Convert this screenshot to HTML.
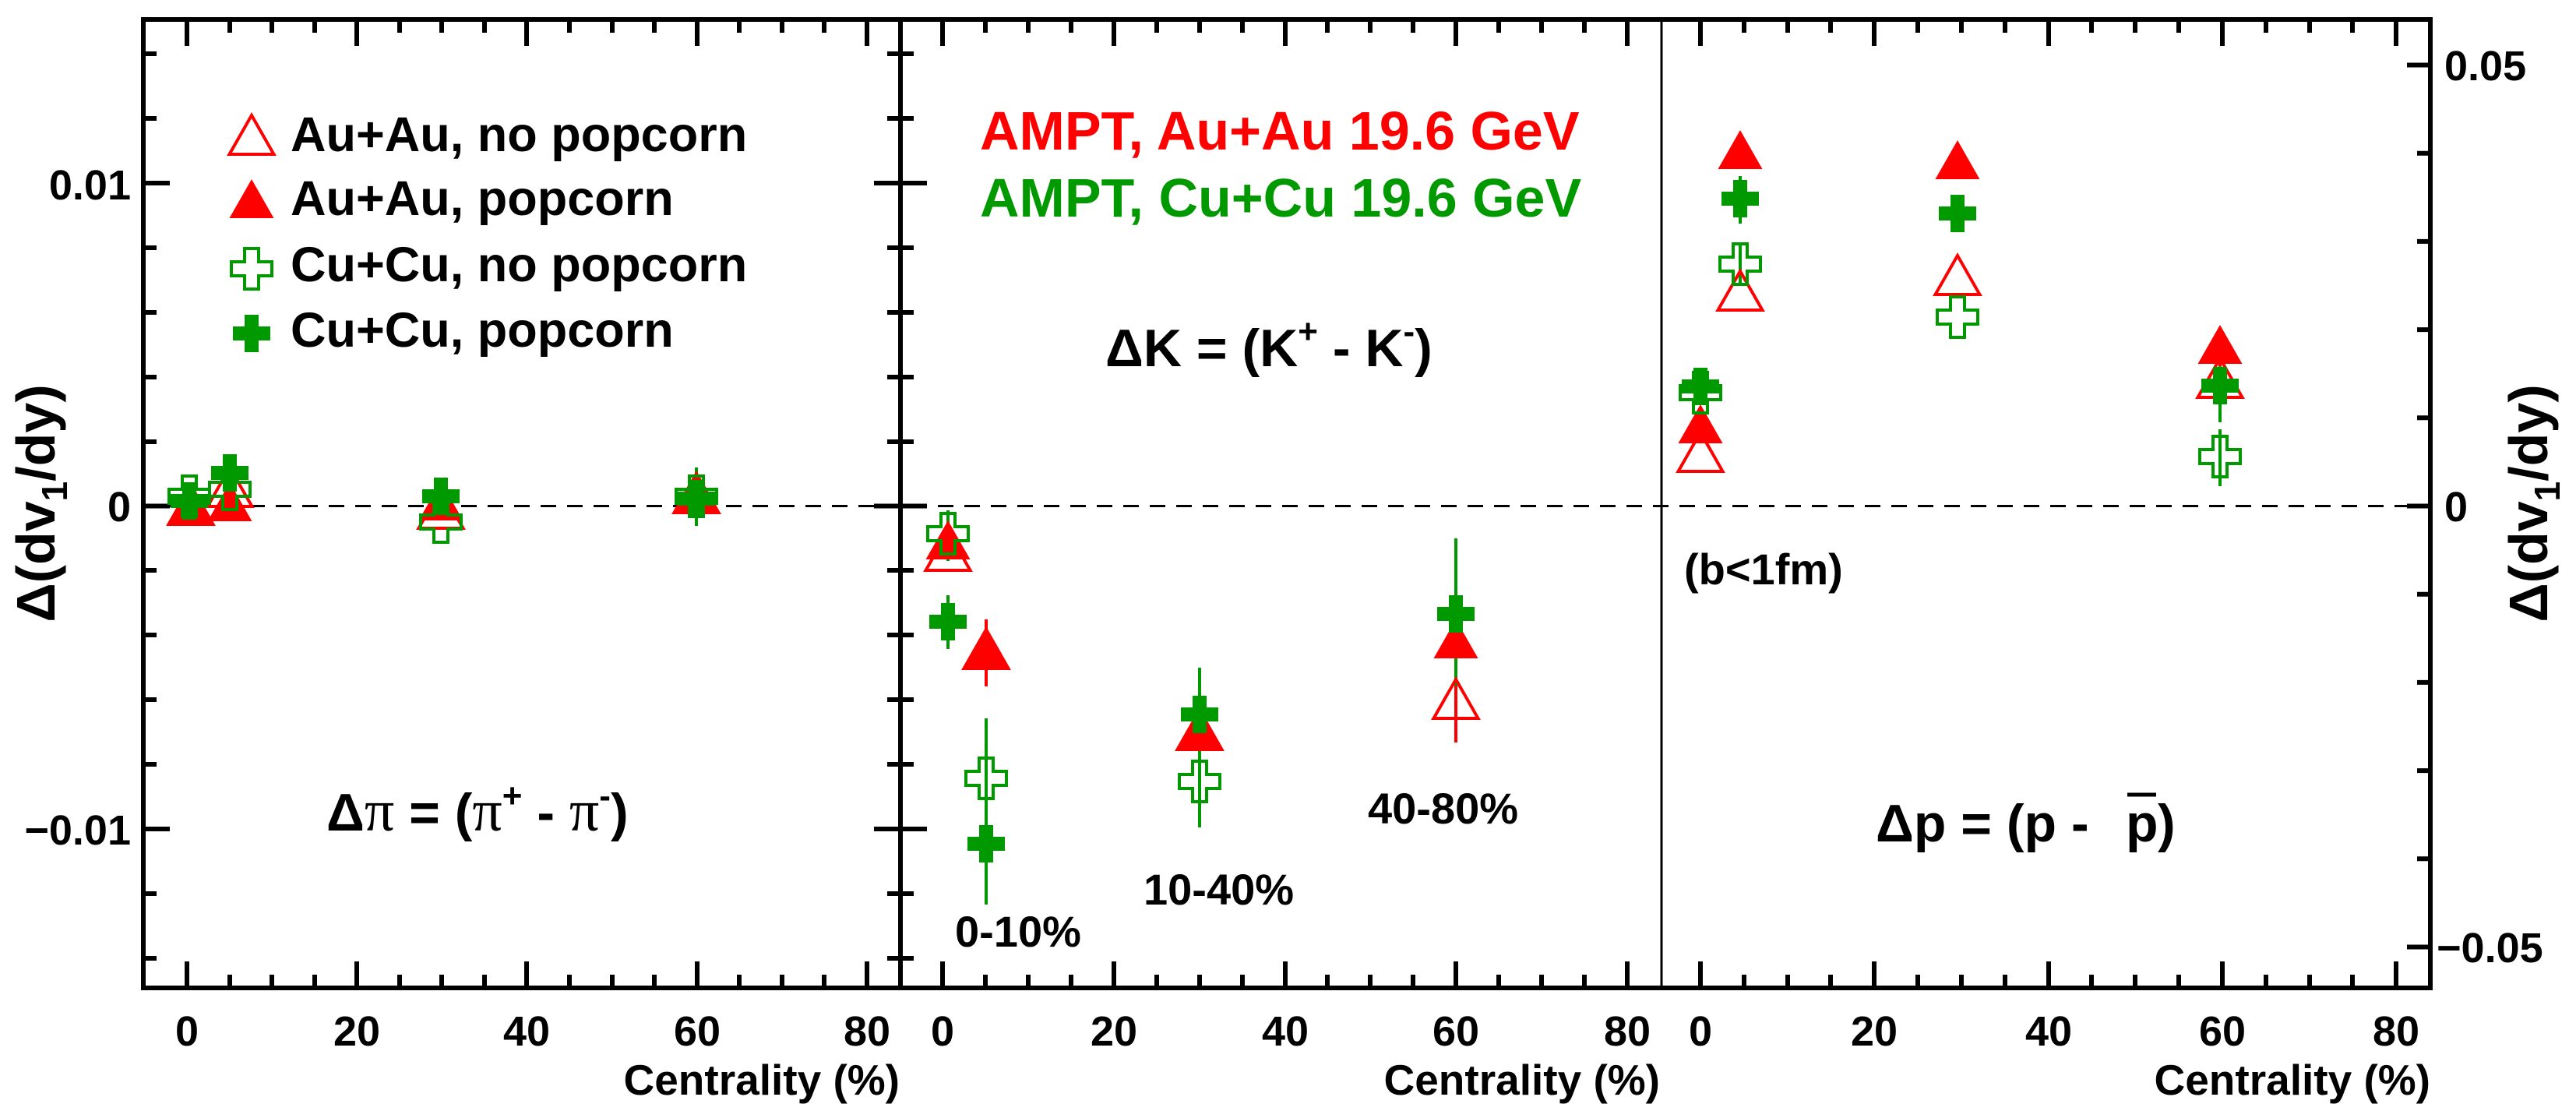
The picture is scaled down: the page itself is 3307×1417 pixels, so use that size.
<!DOCTYPE html>
<html><head><meta charset="utf-8"><style>
html,body{margin:0;padding:0;background:#fff;}
svg{display:block;}
text{font-family:"Liberation Sans",Arial,sans-serif;font-weight:bold;}
</style></head><body>
<svg width="3307" height="1417" viewBox="0 0 3307 1417" xmlns="http://www.w3.org/2000/svg">
<defs>
<polygon id="tri" points="0,-32 28.5,18 -28.5,18"/>
<polygon id="crs" points="-9,-26 9,-26 9,-9 26,-9 26,9 9,9 9,26 -9,26 -9,9 -26,9 -26,-9 -9,-9"/>
<polygon id="fcr" points="-9,-24 9,-24 9,-9 24,-9 24,9 9,9 9,24 -9,24 -9,9 -24,9 -24,-9 -9,-9"/>
</defs>

<line x1="184" y1="649.5" x2="3120" y2="649.5" stroke="#000" stroke-width="3" stroke-dasharray="20,14"/>

<g stroke="#000" fill="none">
<rect x="184" y="25" width="2936" height="1243" stroke-width="6"/>
<line x1="1156" y1="25" x2="1156" y2="1268" stroke-width="6"/>
<line x1="2133" y1="25" x2="2133" y2="1268" stroke-width="3"/>
<path stroke-width="6" d="M184 69h17M184 152h17M184 235h34M184 318h17M184 401h17M184 484h17M184 567h17M184 649.5h34M184 732h17M184 815h17M184 898h17M184 981h17M184 1064h34M184 1147h17M184 1230h17
M1139 69h34M1139 152h34M1122 235h68M1139 318h34M1139 401h34M1139 484h34M1139 567h34M1122 649.5h68M1139 732h34M1139 815h34M1139 898h34M1139 981h34M1122 1064h68M1139 1147h34M1139 1230h34
M3120 83.5h-30M3120 196.7h-17M3120 309.9h-17M3120 423.1h-17M3120 536.3h-17M3120 649.5h-30M3120 762.7h-17M3120 875.9h-17M3120 989.1h-17M3120 1102.3h-17M3120 1215.5h-30"/>
<path stroke-width="6" d="
M240 1268v-34M295 1268v-17M349 1268v-17M404 1268v-17M458 1268v-34M513 1268v-17M567 1268v-17M622 1268v-17M676 1268v-34M731 1268v-17M786 1268v-17M840 1268v-17M895 1268v-34M949 1268v-17M1004 1268v-17M1058 1268v-17M1113 1268v-34
M240 25v34M295 25v17M349 25v17M404 25v17M458 25v34M513 25v17M567 25v17M622 25v17M676 25v34M731 25v17M786 25v17M840 25v17M895 25v34M949 25v17M1004 25v17M1058 25v17M1113 25v34
M1210 1268v-34M1265 1268v-17M1320 1268v-17M1375 1268v-17M1430 1268v-34M1485 1268v-17M1540 1268v-17M1595 1268v-17M1650 1268v-34M1704 1268v-17M1759 1268v-17M1814 1268v-17M1869 1268v-34M1924 1268v-17M1979 1268v-17M2034 1268v-17M2089 1268v-34
M1210 25v34M1265 25v17M1320 25v17M1375 25v17M1430 25v34M1485 25v17M1540 25v17M1595 25v17M1650 25v34M1704 25v17M1759 25v17M1814 25v17M1869 25v34M1924 25v17M1979 25v17M2034 25v17M2089 25v34
M2183 1268v-34M2239 1268v-17M2295 1268v-17M2350 1268v-17M2406 1268v-34M2462 1268v-17M2518 1268v-17M2574 1268v-17M2630 1268v-34M2685 1268v-17M2741 1268v-17M2797 1268v-17M2853 1268v-34M2909 1268v-17M2965 1268v-17M3020 1268v-17M3076 1268v-34
M2183 25v34M2239 25v17M2295 25v17M2350 25v17M2406 25v34M2462 25v17M2518 25v17M2574 25v17M2630 25v34M2685 25v17M2741 25v17M2797 25v17M2853 25v34M2909 25v17M2965 25v17M3020 25v17M3076 25v34"/>
</g>

<g font-size="54" fill="#000">
<text x="168" y="256" text-anchor="end">0.01</text>
<text x="168" y="669" text-anchor="end">0</text>
<text x="168" y="1084" text-anchor="end">−0.01</text>
<text x="3138" y="103">0.05</text>
<text x="3138" y="669">0</text>
<text x="3128" y="1235">−0.05</text>
<g text-anchor="middle">
<text x="240" y="1342">0</text><text x="458" y="1342">20</text><text x="676" y="1342">40</text><text x="895" y="1342">60</text><text x="1113" y="1342">80</text>
<text x="1210" y="1342">0</text><text x="1430" y="1342">20</text><text x="1650" y="1342">40</text><text x="1869" y="1342">60</text><text x="2089" y="1342">80</text>
<text x="2183" y="1342">0</text><text x="2406" y="1342">20</text><text x="2630" y="1342">40</text><text x="2853" y="1342">60</text><text x="3076" y="1342">80</text>
</g>
</g>
<g font-size="55" text-anchor="end">
<text x="1155" y="1405">Centrality (%)</text>
<text x="2131" y="1405">Centrality (%)</text>
<text x="3120" y="1405">Centrality (%)</text>
</g>

<text font-size="70" text-anchor="middle" transform="translate(70,646) rotate(-90)">Δ(dv<tspan font-size="46" dy="16">1</tspan><tspan dy="-16">/dy)</tspan></text>
<text font-size="70" text-anchor="middle" transform="translate(3270,646) rotate(-90)">Δ(dv<tspan font-size="46" dy="16">1</tspan><tspan dy="-16">/dy)</tspan></text>

<g font-size="63">
<text x="373" y="194">Au+Au, no popcorn</text>
<text x="373" y="276">Au+Au, popcorn</text>
<text x="373" y="361">Cu+Cu, no popcorn</text>
<text x="373" y="445">Cu+Cu, popcorn</text>
</g>
<g font-size="70">
<text x="1258" y="192" fill="#f00">AMPT, Au+Au 19.6 GeV</text>
<text x="1258" y="278" fill="#009900">AMPT, Cu+Cu 19.6 GeV</text>
</g>
<use href="#tri" x="323" y="180" fill="none" stroke="#f00" stroke-width="4"/>
<use href="#tri" x="323" y="262" fill="#f00"/>
<use href="#crs" x="323" y="345" fill="none" stroke="#009900" stroke-width="4"/>
<use href="#fcr" x="323" y="428" fill="#009900"/>

<g font-size="68">
<text x="419" y="1066">Δ<tspan font-family="Liberation Serif" font-weight="normal" font-size="76">π</tspan> = (<tspan font-family="Liberation Serif" font-weight="normal" font-size="76">π</tspan><tspan font-size="44" dy="-30">+</tspan><tspan dy="30"> - </tspan><tspan font-family="Liberation Serif" font-weight="normal" font-size="76">π</tspan><tspan font-size="44" dy="-30">-</tspan><tspan dy="30">)</tspan></text>
<text x="1419" y="470">ΔK = (K<tspan font-size="44" dy="-30">+</tspan><tspan dy="30"> - K</tspan><tspan font-size="44" dy="-30">-</tspan><tspan dy="30">)</tspan></text>
<text x="2408" y="1080">Δp = (p -</text>
<text x="2729" y="1080">p</text>
<text x="2770" y="1080">)</text>
</g>
<line x1="2731" y1="1020" x2="2768" y2="1020" stroke="#000" stroke-width="5"/>
<g font-size="56">
<text x="2162" y="750">(b&lt;1fm)</text>
<text x="1226" y="1215">0-10%</text>
<text x="1468" y="1161">10-40%</text>
<text x="1756" y="1057">40-80%</text>
</g>

<g stroke="#009900" stroke-width="4">
<line x1="295" y1="585" x2="295" y2="630"/>
<line x1="894" y1="600" x2="894" y2="675"/>
<line x1="1217" y1="655" x2="1217" y2="720"/>
<line x1="1217" y1="764" x2="1217" y2="833"/>
<line x1="1266" y1="922" x2="1266" y2="1161"/>
<line x1="1540" y1="857" x2="1540" y2="1062"/>
<line x1="1869" y1="691" x2="1869" y2="890"/>
<line x1="2234" y1="226" x2="2234" y2="287"/>
<line x1="2234" y1="315" x2="2234" y2="365"/>
<line x1="2850" y1="452" x2="2850" y2="542"/>
<line x1="2850" y1="551" x2="2850" y2="624"/>
</g>
<g stroke="#f00" stroke-width="4">
<line x1="1266" y1="795" x2="1266" y2="881"/>
<line x1="1869" y1="880" x2="1869" y2="953"/>
<line x1="2850" y1="425" x2="2850" y2="470"/>
</g>

<g fill="#f00">
<use href="#tri" x="243" y="655"/><use href="#tri" x="295" y="651"/>
<use href="#tri" x="566" y="650"/><use href="#tri" x="894" y="640"/>
<use href="#tri" x="1217" y="700"/><use href="#tri" x="1266" y="842"/>
<use href="#tri" x="1540" y="944"/><use href="#tri" x="1869" y="827"/>
<use href="#tri" x="2183" y="551"/><use href="#tri" x="2234" y="199"/>
<use href="#tri" x="2513" y="212"/><use href="#tri" x="2850" y="449"/>
</g>
<g fill="none" stroke="#f00" stroke-width="4">
<use href="#tri" x="245" y="655"/><use href="#tri" x="295" y="632"/>
<use href="#tri" x="566" y="660"/><use href="#tri" x="894" y="640"/>
<use href="#tri" x="1217" y="714"/><use href="#tri" x="1266" y="840"/>
<use href="#tri" x="1540" y="944"/><use href="#tri" x="1869" y="904"/>
<use href="#tri" x="2183" y="587"/><use href="#tri" x="2234" y="380"/>
<use href="#tri" x="2513" y="360"/><use href="#tri" x="2850" y="492"/>
</g>
<g fill="none" stroke="#009900" stroke-width="4">
<use href="#crs" x="243" y="637"/><use href="#crs" x="295" y="628"/>
<use href="#crs" x="566" y="670"/><use href="#crs" x="894" y="637"/>
<use href="#crs" x="1217" y="685"/><use href="#crs" x="1266" y="999"/>
<use href="#crs" x="1540" y="1003"/>
<use href="#crs" x="2183" y="504"/><use href="#crs" x="2234" y="339"/>
<use href="#crs" x="2513" y="407"/><use href="#crs" x="2850" y="586"/>
</g>
<g fill="#009900">
<use href="#fcr" x="243" y="643"/><use href="#fcr" x="295" y="607"/>
<use href="#fcr" x="566" y="637"/><use href="#fcr" x="894" y="640"/>
<use href="#fcr" x="1217" y="798"/><use href="#fcr" x="1266" y="1083"/>
<use href="#fcr" x="1540" y="917"/><use href="#fcr" x="1869" y="788"/>
<use href="#fcr" x="2183" y="496"/><use href="#fcr" x="2234" y="255"/>
<use href="#fcr" x="2513" y="274"/><use href="#fcr" x="2850" y="495"/>
</g>
</svg>
</body></html>
